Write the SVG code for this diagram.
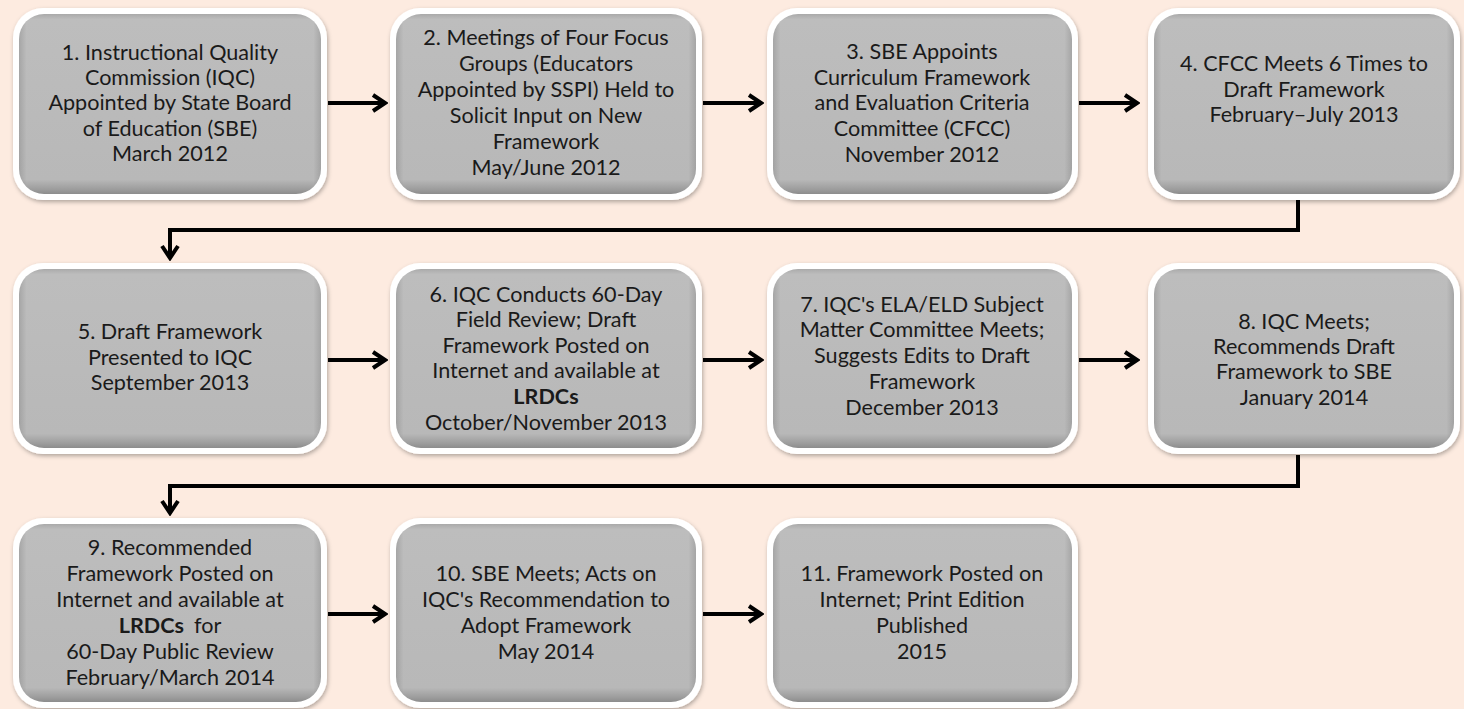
<svg xmlns="http://www.w3.org/2000/svg" width="1464" height="709" viewBox="0 0 1464 709">
<defs>
<style>
.outer{fill:#ffffff;filter:url(#sh)}
.inner{fill:url(#g)}
.side{fill:url(#gs)}
.t{font-family:Lato,"Liberation Sans",sans-serif;font-size:21.6px;fill:#1a1a1a;text-anchor:middle}
.b{font-weight:bold}
.ln{stroke:#000;stroke-width:4;fill:none}
</style>
<linearGradient id="g" x1="0" y1="0" x2="0" y2="1">
<stop offset="0" stop-color="#aaaaaa"/>
<stop offset="0.03" stop-color="#bdbdbd"/>
<stop offset="0.92" stop-color="#b8b8b8"/>
<stop offset="0.975" stop-color="#9c9c9c"/>
<stop offset="1" stop-color="#8c8c8c"/>
</linearGradient>
<linearGradient id="gs" x1="0" y1="0" x2="1" y2="0">
<stop offset="0" stop-color="#000" stop-opacity="0.12"/>
<stop offset="0.025" stop-color="#000" stop-opacity="0"/>
<stop offset="0.975" stop-color="#000" stop-opacity="0"/>
<stop offset="1" stop-color="#000" stop-opacity="0.12"/>
</linearGradient>
<filter id="sh" x="-10%" y="-10%" width="120%" height="120%">
<feDropShadow dx="1" dy="2" stdDeviation="2" flood-color="#000" flood-opacity="0.3"/>
</filter>
<marker id="ah" markerUnits="userSpaceOnUse" viewBox="-16 -11 19 22" markerWidth="19" markerHeight="22" refX="0" refY="0" orient="auto">
<path d="M-12,-8 L0,0 L-12,8" stroke="#000" stroke-width="4" fill="none"/>
</marker>
</defs>
<rect width="1464" height="709" fill="#fdebe0"/>

<g id="connectors">
<line class="ln" x1="328" y1="103" x2="385" y2="103" marker-end="url(#ah)"/>
<line class="ln" x1="703" y1="103" x2="761" y2="103" marker-end="url(#ah)"/>
<line class="ln" x1="1079" y1="103" x2="1137" y2="103" marker-end="url(#ah)"/>
<line class="ln" x1="328" y1="360" x2="385" y2="360" marker-end="url(#ah)"/>
<line class="ln" x1="703" y1="360" x2="761" y2="360" marker-end="url(#ah)"/>
<line class="ln" x1="1079" y1="360" x2="1137" y2="360" marker-end="url(#ah)"/>
<line class="ln" x1="328" y1="614" x2="385" y2="614" marker-end="url(#ah)"/>
<line class="ln" x1="703" y1="614" x2="761" y2="614" marker-end="url(#ah)"/>
<path class="ln" d="M1298,200 V230 H170 V258" marker-end="url(#ah)"/>
<path class="ln" d="M1298,455 V486 H170 V513" marker-end="url(#ah)"/>
</g>

<g id="n1">
<rect class="outer" x="13" y="8" width="314" height="192" rx="30"/>
<rect class="inner" x="19" y="14" width="302" height="180" rx="25"/>
<rect class="side" x="19" y="14" width="302" height="180" rx="25"/>
<text class="t" x="170" y="60">1. Instructional Quality</text>
<text class="t" x="170" y="85">Commission (IQC)</text>
<text class="t" x="170" y="110">Appointed by State Board</text>
<text class="t" x="170" y="136">of Education (SBE)</text>
<text class="t" x="170" y="161">March 2012</text>
</g>
<g id="n2">
<rect class="outer" x="390" y="8" width="312" height="192" rx="30"/>
<rect class="inner" x="396" y="14" width="300" height="180" rx="25"/>
<rect class="side" x="396" y="14" width="300" height="180" rx="25"/>
<text class="t" x="546" y="45">2. Meetings of Four Focus</text>
<text class="t" x="546" y="71">Groups (Educators</text>
<text class="t" x="546" y="97">Appointed by SSPI) Held to</text>
<text class="t" x="546" y="123">Solicit Input on New</text>
<text class="t" x="546" y="149">Framework</text>
<text class="t" x="546" y="175">May/June 2012</text>
</g>
<g id="n3">
<rect class="outer" x="767" y="8" width="311" height="192" rx="30"/>
<rect class="inner" x="773" y="14" width="299" height="180" rx="25"/>
<rect class="side" x="773" y="14" width="299" height="180" rx="25"/>
<text class="t" x="922" y="59">3. SBE Appoints</text>
<text class="t" x="922" y="85">Curriculum Framework</text>
<text class="t" x="922" y="110">and Evaluation Criteria</text>
<text class="t" x="922" y="136">Committee (CFCC)</text>
<text class="t" x="922" y="162">November 2012</text>
</g>
<g id="n4">
<rect class="outer" x="1148" y="8" width="312" height="192" rx="30"/>
<rect class="inner" x="1154" y="14" width="300" height="180" rx="25"/>
<rect class="side" x="1154" y="14" width="300" height="180" rx="25"/>
<text class="t" x="1304" y="71">4. CFCC Meets 6 Times to</text>
<text class="t" x="1304" y="97">Draft Framework</text>
<text class="t" x="1304" y="122">February–July 2013</text>
</g>

<g id="n5">
<rect class="outer" x="13" y="263" width="314" height="191" rx="30"/>
<rect class="inner" x="19" y="269" width="302" height="179" rx="25"/>
<rect class="side" x="19" y="269" width="302" height="179" rx="25"/>
<text class="t" x="170" y="339">5. Draft Framework</text>
<text class="t" x="170" y="365">Presented to IQC</text>
<text class="t" x="170" y="390">September 2013</text>
</g>
<g id="n6">
<rect class="outer" x="390" y="263" width="312" height="191" rx="30"/>
<rect class="inner" x="396" y="269" width="300" height="179" rx="25"/>
<rect class="side" x="396" y="269" width="300" height="179" rx="25"/>
<text class="t" x="546" y="302">6. IQC Conducts 60-Day</text>
<text class="t" x="546" y="327">Field Review; Draft</text>
<text class="t" x="546" y="353">Framework Posted on</text>
<text class="t" x="546" y="378">Internet and available at</text>
<text class="t b" x="546" y="404">LRDCs</text>
<text class="t" x="546" y="430">October/November 2013</text>
</g>
<g id="n7">
<rect class="outer" x="767" y="263" width="311" height="191" rx="30"/>
<rect class="inner" x="773" y="269" width="299" height="179" rx="25"/>
<rect class="side" x="773" y="269" width="299" height="179" rx="25"/>
<text class="t" x="922" y="312">7. IQC's ELA/ELD Subject</text>
<text class="t" x="922" y="337">Matter Committee Meets;</text>
<text class="t" x="922" y="363">Suggests Edits to Draft</text>
<text class="t" x="922" y="389">Framework</text>
<text class="t" x="922" y="415">December 2013</text>
</g>
<g id="n8">
<rect class="outer" x="1148" y="263" width="312" height="191" rx="30"/>
<rect class="inner" x="1154" y="269" width="300" height="179" rx="25"/>
<rect class="side" x="1154" y="269" width="300" height="179" rx="25"/>
<text class="t" x="1304" y="329">8. IQC Meets;</text>
<text class="t" x="1304" y="354">Recommends Draft</text>
<text class="t" x="1304" y="379">Framework to SBE</text>
<text class="t" x="1304" y="405">January 2014</text>
</g>

<g id="n9">
<rect class="outer" x="13" y="518" width="314" height="190" rx="30"/>
<rect class="inner" x="19" y="524" width="302" height="178" rx="25"/>
<rect class="side" x="19" y="524" width="302" height="178" rx="25"/>
<text class="t" x="170" y="555">9. Recommended</text>
<text class="t" x="170" y="581">Framework Posted on</text>
<text class="t" x="170" y="607">Internet and available at</text>
<text class="t" x="170" y="633"><tspan class="b">LRDCs</tspan><tspan dx="10">for</tspan></text>
<text class="t" x="170" y="659">60-Day Public Review</text>
<text class="t" x="170" y="685">February/March 2014</text>
</g>
<g id="n10">
<rect class="outer" x="390" y="518" width="312" height="190" rx="30"/>
<rect class="inner" x="396" y="524" width="300" height="178" rx="25"/>
<rect class="side" x="396" y="524" width="300" height="178" rx="25"/>
<text class="t" x="546" y="581">10. SBE Meets; Acts on</text>
<text class="t" x="546" y="607">IQC's Recommendation to</text>
<text class="t" x="546" y="633">Adopt Framework</text>
<text class="t" x="546" y="659">May 2014</text>
</g>
<g id="n11">
<rect class="outer" x="767" y="518" width="311" height="190" rx="30"/>
<rect class="inner" x="773" y="524" width="299" height="178" rx="25"/>
<rect class="side" x="773" y="524" width="299" height="178" rx="25"/>
<text class="t" x="922" y="581">11. Framework Posted on</text>
<text class="t" x="922" y="607">Internet; Print Edition</text>
<text class="t" x="922" y="633">Published</text>
<text class="t" x="922" y="659">2015</text>
</g>
</svg>
